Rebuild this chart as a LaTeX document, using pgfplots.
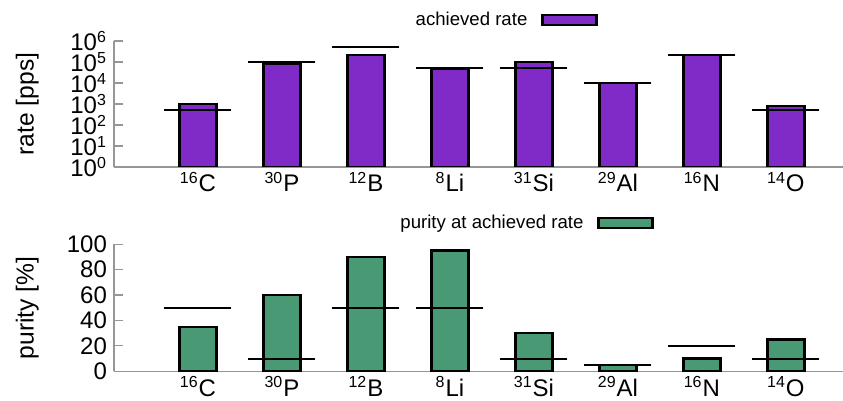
\documentclass[border=0pt]{standalone}
\usepackage{pgfplots}
\pgfplotsset{compat=1.18}
\usepackage{fontspec}
\setmainfont{Liberation Sans}

\definecolor{ratebar}{RGB}{128,42,200}
\definecolor{puritybar}{RGB}{73,154,116}
\definecolor{axisgray}{RGB}{150,150,150}

\pgfplotsset{
  panel/.style={
    scale only axis,
    width=364.5pt,
    xmin=-1, xmax=7.68,
    axis x line*=bottom,
    axis y line*=left,
    axis line style={axisgray, line width=0.6pt},
    every tick/.style={axisgray, line width=0.6pt},
    major tick length=4.5pt,
    yminorticks=false,
    xtick={0,...,7},
    major x tick style={draw=none},
    xticklabels={\textsuperscript{16}C,\textsuperscript{30}P,\textsuperscript{12}B,\textsuperscript{8}Li,
                 \textsuperscript{31}Si,\textsuperscript{29}Al,\textsuperscript{16}N,\textsuperscript{14}O},
    tick label style={font=\fontsize{12}{12}\selectfont},
    xticklabel style={yshift=1pt},
    /pgf/number format/assume math mode=true,
    y label style={at={(axis description cs:-0.119,0.5)}, anchor=center, font=\fontsize{12.3}{12}\selectfont},
    legend style={draw=none, fill=none, font=\fontsize{9.3}{10}\selectfont,
                  legend cell align=right, inner sep=0pt, anchor=center,
                  /tikz/every odd column/.append style={column sep=5pt}},
    legend plot pos=right,
  },
  barstyle/.style={ybar, bar width=18.5pt, draw=black, line width=1.2pt, fill=#1,
    area legend,
    legend image code/.code={\draw[line width=1.2pt, draw=black, fill=#1] (0pt,-2.6pt) rectangle (27pt,2.6pt);}},
  target/.style={only marks, mark=-, mark size=16.75pt, mark options={line width=1pt, draw=black}, forget plot},
}

\begin{document}
\begin{tikzpicture}[x=1pt,y=1pt]
\useasboundingbox (0,0) rectangle (421.5,200.5);

% achieved beam rate (log scale) with the requested rate as a bar
\begin{axis}[panel,
  at={(57pt,117pt)}, anchor=south west,
  height=63pt,
  ymode=log, ymin=1, ymax=1e6, log origin=infty,
  ytick={1,10,100,1000,10000,100000,1000000},
  yticklabels={10\textsuperscript{0},10\textsuperscript{1},10\textsuperscript{2},10\textsuperscript{3},
               10\textsuperscript{4},10\textsuperscript{5},10\textsuperscript{6}},
  ylabel={rate [pps]},
  legend style={at={(axis description cs:0.536,1.167)}},
]
\addplot[barstyle=ratebar] coordinates {
  (0,1000) (1,78000) (2,210000) (3,50000) (4,100000) (5,10000) (6,210000) (7,800)
};
\addlegendentry{achieved rate}
\addplot[target] coordinates {
  (0,500) (1,100000) (2,500000) (3,50000) (4,50000) (5,10000) (6,210000) (7,500)
};
\end{axis}

% purity at the achieved rate with the required purity as a bar
\begin{axis}[panel,
  at={(57pt,14.85pt)}, anchor=south west,
  height=63.5pt,
  ymin=0, ymax=100,
  ytick={0,20,...,100},
  ylabel={purity [\%]},
  legend style={at={(axis description cs:0.564,1.168)}},
]
\addplot[barstyle=puritybar] coordinates {
  (0,35) (1,60) (2,90) (3,95) (4,30) (5,5) (6,10) (7,25)
};
\addlegendentry{purity at achieved rate}
\addplot[target] coordinates {
  (0,50) (1,10) (2,50) (3,50) (4,10) (5,5) (6,20) (7,10)
};
\end{axis}
\end{tikzpicture}
\end{document}
